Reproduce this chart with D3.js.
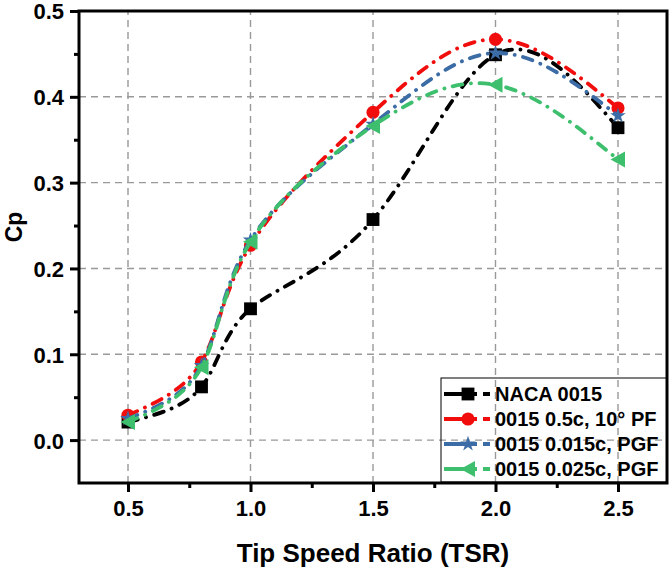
<!DOCTYPE html>
<html>
<head>
<meta charset="utf-8">
<script src="https://cdn.jsdelivr.net/npm/d3@7"></script>
<style>
  html, body { margin: 0; padding: 0; background: #fff; }
  svg { display: block; font-family: "Liberation Sans", Arial, sans-serif; }
</style>
</head>
<body>
<svg id="chart" width="669" height="568"></svg>
<script>
// ---- data ----
const tsr = [0.5, 0.8, 1.0, 1.5, 2.0, 2.5];
const naca0015 = [0.021, 0.062, 0.153, 0.257, 0.449, 0.364];
const pf05c10 = [0.029, 0.091, 0.227, 0.382, 0.467, 0.387];
const pgf0015 = [0.025, 0.087, 0.233, 0.368, 0.451, 0.378];
const pgf0025 = [0.021, 0.085, 0.231, 0.366, 0.414, 0.327];
const seriesNames = ["NACA 0015", "0015 0.5c, 10° PF", "0015 0.015c, PGF", "0015 0.025c, PGF"];
const seriesColors = ["#000000", "#f20d0d", "#3b6ca6", "#3dbf6d"];
const seriesMarkers = ["square", "circle", "star", "triangleLeft"];
const xTicks = [0.5, 1.0, 1.5, 2.0, 2.5];
const xMinorTicks = [0.75, 1.25, 1.75, 2.25];
const yTicks = [0.0, 0.1, 0.2, 0.3, 0.4, 0.5];
const yMinorTicks = [0.05, 0.15, 0.25, 0.35, 0.45];

const seriesValues = [naca0015, pf05c10, pgf0015, pgf0025];

const svg = d3.select("#chart");
const x = d3.scaleLinear().domain([0.3, 2.7]).range([79, 667]);
const y = d3.scaleLinear().domain([-0.05, 0.5]).range([483, 11]);

// grid
const grid = svg.append("g");
grid.selectAll("line.gx").data(xTicks).join("line")
  .attr("x1", d => x(d)).attr("x2", d => x(d))
  .attr("y1", y.range()[0]).attr("y2", y.range()[1])
  .attr("stroke", "#999").attr("stroke-width", 1.4).attr("stroke-dasharray", "7,5");
grid.selectAll("line.gy").data(yTicks.filter(d => d < 0.5)).join("line")
  .attr("y1", d => y(d)).attr("y2", d => y(d))
  .attr("x1", x.range()[0]).attr("x2", x.range()[1])
  .attr("stroke", "#999").attr("stroke-width", 1.4).attr("stroke-dasharray", "7,5");

// axes
const fmt = d3.format(".1f");
const xAxis = svg.append("g").attr("transform", `translate(0,${y.range()[0]})`)
  .call(d3.axisBottom(x).tickValues(xTicks).tickFormat(fmt).tickSize(9).tickPadding(8));
const xAxisMinor = svg.append("g").attr("transform", `translate(0,${y.range()[0]})`)
  .call(d3.axisBottom(x).tickValues(xMinorTicks).tickFormat("").tickSize(5));
const yAxis = svg.append("g").attr("transform", `translate(${x.range()[0]},0)`)
  .call(d3.axisLeft(y).tickValues(yTicks).tickFormat(fmt).tickSize(9).tickPadding(6));
const yAxisMinor = svg.append("g").attr("transform", `translate(${x.range()[0]},0)`)
  .call(d3.axisLeft(y).tickValues(yMinorTicks).tickFormat("").tickSize(5));
[xAxis, xAxisMinor, yAxis, yAxisMinor].forEach(g => {
  g.select(".domain").remove();
  g.selectAll(".tick line").attr("stroke", "#000").attr("stroke-width", 3);
  g.selectAll("text").attr("fill", "#000").attr("font-size", 22).attr("font-weight", "bold");
});
yAxis.selectAll("text").attr("dy", "0.36em");

// frame
svg.append("rect")
  .attr("x", x.range()[0]).attr("y", y.range()[1])
  .attr("width", x.range()[1] - x.range()[0]).attr("height", y.range()[0] - y.range()[1])
  .attr("fill", "none").attr("stroke", "#000").attr("stroke-width", 3);

// axis titles
svg.append("text").attr("x", 373).attr("y", 562)
  .attr("text-anchor", "middle").attr("font-size", 26).attr("font-weight", "bold")
  .text("Tip Speed Ratio (TSR)");
svg.append("text").attr("transform", "translate(22,227) rotate(-90)")
  .attr("text-anchor", "middle").attr("font-size", 23).attr("font-weight", "bold")
  .text("Cp");

// markers
function markerPath(kind) {
  if (kind === "square") return d3.symbol(d3.symbolSquare, 165)();
  if (kind === "circle") return d3.symbol(d3.symbolCircle, 135)();
  if (kind === "star") return d3.symbol(d3.symbolStar, 75)();
  // left-pointing triangle
  return "M-7.5,0L7,-8L7,8Z";
}

const line = d3.line().x(d => x(d[0])).y(d => y(d[1])).curve(d3.curveNatural);
const plot = svg.append("g");
seriesValues.forEach((vals, i) => {
  const pts = tsr.map((t, k) => [t, vals[k]]);
  plot.append("path").datum(pts).attr("d", line)
    .attr("fill", "none").attr("stroke", seriesColors[i]).attr("stroke-width", 3.8)
    .attr("stroke-linecap", "round").attr("stroke-dasharray", "10,8.5,0.1,8.5");
  plot.selectAll(null).data(pts).join("path")
    .attr("transform", d => `translate(${x(d[0])},${y(d[1])})`)
    .attr("d", markerPath(seriesMarkers[i]))
    .attr("fill", seriesColors[i]);
});

// legend
const legend = svg.append("g");
legend.append("rect").attr("x", 441).attr("y", 378).attr("width", 226).attr("height", 104)
  .attr("fill", "none").attr("stroke", "#000").attr("stroke-width", 1);
seriesNames.forEach((name, i) => {
  const ly = 394 + i * 25;
  legend.append("line").attr("x1", 444).attr("x2", 490).attr("y1", ly).attr("y2", ly)
    .attr("stroke", seriesColors[i]).attr("stroke-width", 3.8)
    .attr("stroke-dasharray", "33,6,8");
  legend.append("path").attr("transform", `translate(468,${ly})`)
    .attr("d", markerPath(seriesMarkers[i])).attr("fill", seriesColors[i]);
  legend.append("text").attr("x", 495).attr("y", ly).attr("dy", "0.36em")
    .attr("font-size", 20).attr("font-weight", "bold").attr("fill", "#000").text(name);
});
</script>
</body>
</html>
